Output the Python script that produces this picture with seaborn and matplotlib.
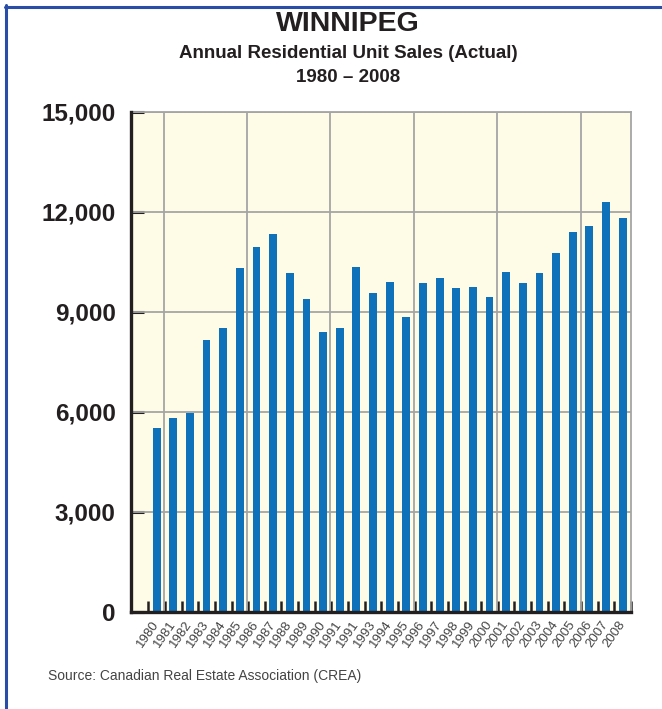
import numpy as np
import pandas as pd
import matplotlib
matplotlib.use("Agg")
import matplotlib.pyplot as plt
from matplotlib.lines import Line2D
import seaborn as sns

# ---- data ----
year_labels = ["1980", "1981", "1982", "1983", "1984", "1985", "1986", "1987",
               "1988", "1989", "1990", "1991", "1991", "1993", "1994", "1995",
               "1996", "1997", "1998", "1999", "2000", "2001", "2002", "2003",
               "2004", "2005", "2006", "2007", "2008"]
sales = [5530, 5830, 5970, 8160, 8520, 10320, 10950, 11340, 10170, 9390,
         8400, 8520, 10350, 9570, 9900, 8850, 9870, 10020, 9720, 9750,
         9450, 10200, 9870, 10170, 10770, 11400, 11580, 12300, 11820]
y_ticks = [0, 3000, 6000, 9000, 12000, 15000]

title = "WINNIPEG"
subtitle = "Annual Residential Unit Sales (Actual)"
period = "1980 \u2013 2008"
source = "Source: Canadian Real Estate Association (CREA)"

sns.set_theme(style="white")
plt.rcParams["font.family"] = ["Liberation Sans", "DejaVu Sans"]

W, H = 662, 709
fig = plt.figure(figsize=(W / 100, H / 100), dpi=100)
fig.patch.set_facecolor("white")

ax = fig.add_axes([131 / W, 1 - 612 / H, 500 / W, 500 / H])
ax.set_facecolor("#FEFCE6")

pos = np.arange(len(sales))
df = pd.DataFrame({"pos": pos, "sales": sales})
sns.barplot(data=df, x="pos", y="sales", native_scale=True, width=0.47,
            color="#1071BB", saturation=1, linewidth=0, ax=ax, zorder=3)

ax.set_xlim(-1.54, len(sales) - 0.5)
ax.set_ylim(0, 15000)

# grid
grid_col = "#A5A5A5"
for yv in y_ticks[1:]:
    ax.axhline(yv, color=grid_col, lw=1.3, zorder=1)
for k in range(6):
    ax.axvline(0.42 + 5.01 * k, color=grid_col, lw=1.3, zorder=1)

# spines
for s in ["top", "right"]:
    ax.spines[s].set_color(grid_col)
    ax.spines[s].set_linewidth(1.3)
for s in ["left", "bottom"]:
    ax.spines[s].set_color("#231F20")
    ax.spines[s].set_linewidth(2.4)
    ax.spines[s].set_zorder(5)

# y axis
ax.set_yticks(y_ticks)
ax.set_yticklabels([f"{v:,}" for v in y_ticks], fontsize=17.5, fontweight="bold",
                   color="#231F20")
ax.tick_params(axis="y", direction="in", length=9, width=2.2, color="#231F20",
               pad=11, left=True)

# x axis
ax.set_xticks(pos)
ax.set_xticklabels(year_labels, rotation=55, ha="right", va="center",
                   rotation_mode="anchor", fontsize=9.5, color="#444444")
ax.tick_params(axis="x", length=0, pad=7, bottom=True)
ax.set_xticks(np.arange(len(sales) + 1) - 0.5, minor=True)
ax.tick_params(axis="x", which="minor", direction="in", length=8, width=1.8,
               color="#231F20", bottom=True)
ax.set_xlabel("")
ax.set_ylabel("")

# titles
cx = 348 / W
fig.text(cx, 1 - 24 / H, title, ha="center", va="center", fontsize=20.5,
         fontweight="bold", color="#231F20")
fig.text(cx, 1 - 54 / H, subtitle, ha="center", va="center", fontsize=13.5,
         fontweight="bold", color="#231F20")
fig.text(cx, 1 - 78 / H, period, ha="center", va="center", fontsize=13.5,
         fontweight="bold", color="#231F20")
fig.text(48 / W, 1 - 676 / H, source, ha="left", va="center", fontsize=10,
         color="#444444")

# frame border (left & top)
border = "#2A4EA8"
fig.add_artist(Line2D([6.2 / W, 6.2 / W], [0, 1 - 5 / H], color=border, lw=2.2,
                      transform=fig.transFigure))
fig.add_artist(Line2D([5 / W, 1], [1 - 6.5 / H, 1 - 6.5 / H], color=border,
                      lw=2.2, transform=fig.transFigure))

fig.savefig("out.png", dpi=100, facecolor="white")
